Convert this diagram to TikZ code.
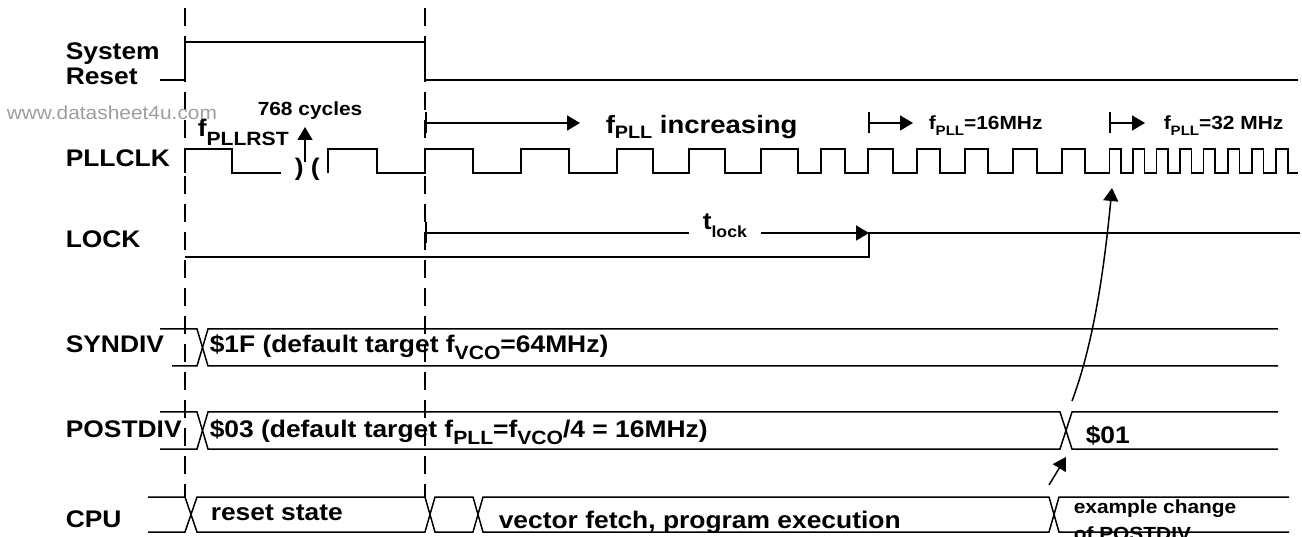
\documentclass[tikz,border=0pt]{standalone}
\usepackage{fontspec}
\setmainfont{Liberation Sans}[FakeStretch=1.1]
\usepackage{graphicx}
\usetikzlibrary{arrows.meta}
\newcommand{\lw}[3][0.78]{\raisebox{-#2}{\scalebox{#1}{#3}}}
\begin{document}
\begin{tikzpicture}[x=1pt,y=-1pt,line width=1.5pt,line join=miter,
  big/.style={anchor=base west,inner sep=0pt,font=\bfseries\fontsize{24}{28}\selectfont},
  mid/.style={anchor=base west,inner sep=0pt,font=\bfseries\fontsize{25}{29}\selectfont},
  sml/.style={anchor=base west,inner sep=0pt,font=\bfseries\fontsize{19}{22}\selectfont},
  wmark/.style={anchor=base west,inner sep=0pt,text=black!38,font=\fontsize{19}{22}\selectfont},
  guide/.style={dash pattern=on 18pt off 10pt},
  tipe/.style={-{Triangle[length=13pt,width=15pt]}},
  bartip/.style={{Bar[width=21pt]}-{Triangle[length=13pt,width=15pt]}},
  baronly/.style={{Bar[width=21pt]}-},
]
\fill[white] (0,0) rectangle (1302,537);
\useasboundingbox (0,0) rectangle (1302,537);

% dashed guide lines
\coordinate (g1t) at (185,8); \coordinate (g1b) at (185,497);
\coordinate (g2t) at (425,8); \coordinate (g2b) at (425,497);
\draw[guide] (g1t) -- (g1b);
\draw[guide] (g2t) -- (g2b);

% watermark
\node[wmark] (wm) at (6,120) {www.datasheet4u.com};

% signal names
\node[big] (nSys) at (65,60) {System};
\node[big] (nRst) at (65,85) {Reset};
\node[big] (nClk) at (65,167) {PLLCLK};
\node[big] (nLock) at (65,248) {LOCK};
\node[big] (nSyn) at (65,353) {SYNDIV};
\node[big] (nPost) at (65,437.5) {POSTDIV};
\node[big] (nCpu) at (65,527) {CPU};

% System Reset
\draw (160,80) -- (185,80) |- (425,42) |- (1298,80);

% PLLCLK
\draw (185,173) |- (232,149) |- (281,173);
\node[big] (gap) at (294,176) {) (};
\draw (328,173) |- (377,149) |- (425,173) |- (473,149) |- (521,173) |- (569,149)
  |- (617,173) |- (653,149) |- (689,173) |- (725,149) |- (761,173) |- (798,149)
  |- (821,173) |- (845,149) |- (868,173) |- (893,149) |- (917,173) |- (940,149)
  |- (965,173) |- (988,149) |- (1013,173) |- (1037,149) |- (1062,173) |- (1085,149)
  |- (1109.5,173) |- (1121,149) |- (1133,173) |- (1144.5,149) |- (1156.5,173) |- (1168,149)
  |- (1180,173) |- (1191.5,149) |- (1203.5,173) |- (1215,149) |- (1228,173) |- (1239.5,149)
  |- (1252,173) |- (1263.5,149) |- (1276,173) |- (1288,149) |- (1298,173);

% f_PLLRST and 768 cycles
\node[big] (frst) at (197,136.7) {f\lw[0.8]{9pt}{PLLRST}};
\node[sml] (cyc) at (257,116) {768 cycles};
\coordinate (cyA) at (305,162); \coordinate (cyB) at (305,127);
\draw[tipe] (cyA) -- (cyB);

% f_PLL increasing
\coordinate (i1) at (425,123); \coordinate (i2) at (580,123);
\draw[bartip] (i1) -- (i2);
\node[mid] (finc) at (605,133.3) {f\lw[0.72]{5pt}{PLL} increasing};

% f_PLL = 16 MHz
\coordinate (s1) at (868,123); \coordinate (s2) at (913,123);
\draw[bartip] (s1) -- (s2);
\node[sml] (f16) at (928,130) {f\lw[0.72]{6pt}{PLL}=16MHz};

% f_PLL = 32 MHz
\coordinate (t1) at (1109,123); \coordinate (t2) at (1145,123);
\draw[bartip] (t1) -- (t2);
\node[sml] (f32) at (1163,130) {f\lw[0.72]{6pt}{PLL}=32 MHz};

% LOCK
\draw (185,257) -- (869,257) |- (1300,233);
\node[big,inner xsep=13pt] (tl) at (689,230) {t\lw[0.67]{8pt}{lock}};
\coordinate (l1) at (425,233); \coordinate (l2) at (869,233);
\draw[baronly] (l1) -- (l1 -| tl.west);
\draw[tipe] (tl.east |- l2) -- (l2);

% SYNDIV bus
\draw (160,329) -- (197,329) -- (208,366) -- (1278,366);
\draw (172,366) -- (197,366) -- (208,329) -- (1278,329);
\node[big] (syv) at (209,353) {\$1F (default target f\lw[0.8]{7pt}{VCO}=64MHz)};

% POSTDIV bus
\draw (160,412) -- (197,412) -- (208,449) -- (1060,449) -- (1072,412) -- (1278,412);
\draw (160,449) -- (197,449) -- (208,412) -- (1060,412) -- (1072,449) -- (1278,449);
\node[big] (pv0) at (209,437) {\$03 (default target f\lw[0.8]{7pt}{PLL}=f\lw[0.8]{7pt}{VCO}/4 = 16MHz)};
\node[big] (pv1) at (1085,443) {\$01};

% CPU bus
\draw (148,497) -- (185,497) -- (197,532) -- (425,532) -- (435,497) -- (473,497) -- (483,532) -- (1049,532) -- (1059,497) -- (1289,497);
\draw (148,532) -- (185,532) -- (197,497) -- (425,497) -- (435,532) -- (473,532) -- (483,497) -- (1049,497) -- (1059,532) -- (1289,532);
\node[big] (cr) at (210,520) {reset state};
\node[big] (cv) at (498,528) {vector fetch, program execution};
\node[sml] (ce1) at (1073,513) {example change};
\node[sml] (ce2) at (1073,540) {of POSTDIV};

% annotation arrows
\coordinate (k1) at (1049,485); \coordinate (k2) at (1066,457);
\draw[tipe] (k1) -- (k2);
\coordinate (c1) at (1072,401); \coordinate (c2) at (1112,188);
\draw[tipe] (c1) .. controls (1095,340) and (1105,260) .. (c2);
\end{tikzpicture}
\end{document}
